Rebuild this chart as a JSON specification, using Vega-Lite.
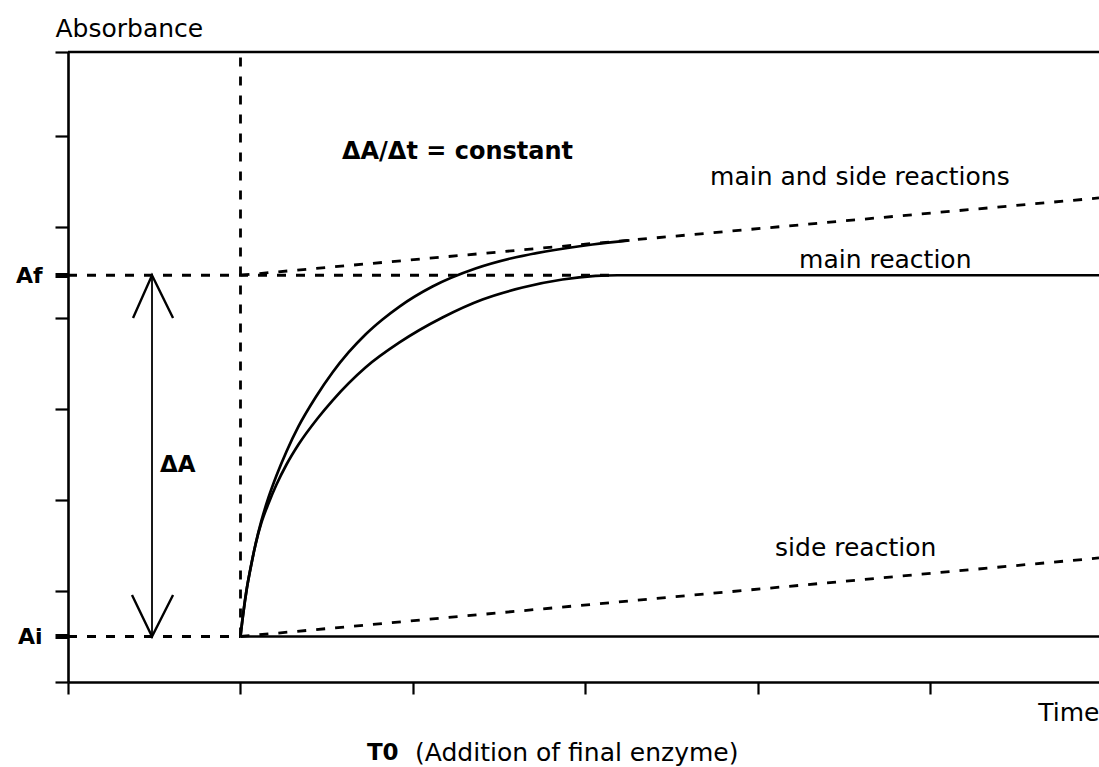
{
  "$schema": "https://vega.github.io/schema/vega-lite/v6.json",
  "width": 1031,
  "height": 630,
  "autosize": {"type": "none"},
  "padding": {"left": 68, "top": 52, "right": 0, "bottom": 85},
  "background": "white",
  "config": {"view": {"stroke": null}, "font": "DejaVu Sans"},
  "datasets": {
    "solid": [
      {"series": "main reaction", "i": 0, "x": 1, "y": 0.5},
      {"series": "main reaction", "i": 1, "x": 1.0058, "y": 0.599},
      {"series": "main reaction", "i": 2, "x": 1.0174, "y": 0.775},
      {"series": "main reaction", "i": 3, "x": 1.0348, "y": 1.005},
      {"series": "main reaction", "i": 4, "x": 1.058, "y": 1.247},
      {"series": "main reaction", "i": 5, "x": 1.087, "y": 1.511},
      {"series": "main reaction", "i": 6, "x": 1.1217, "y": 1.753},
      {"series": "main reaction", "i": 7, "x": 1.1623, "y": 1.962},
      {"series": "main reaction", "i": 8, "x": 1.2087, "y": 2.17},
      {"series": "main reaction", "i": 9, "x": 1.2667, "y": 2.39},
      {"series": "main reaction", "i": 10, "x": 1.3362, "y": 2.61},
      {"series": "main reaction", "i": 11, "x": 1.4464, "y": 2.896},
      {"series": "main reaction", "i": 12, "x": 1.5333, "y": 3.093},
      {"series": "main reaction", "i": 13, "x": 1.7246, "y": 3.456},
      {"series": "main reaction", "i": 14, "x": 1.9217, "y": 3.731},
      {"series": "main reaction", "i": 15, "x": 2.171, "y": 4.005},
      {"series": "main reaction", "i": 16, "x": 2.4029, "y": 4.203},
      {"series": "main reaction", "i": 17, "x": 2.6348, "y": 4.335},
      {"series": "main reaction", "i": 18, "x": 2.8667, "y": 4.423},
      {"series": "main reaction", "i": 19, "x": 3.058, "y": 4.462},
      {"series": "main reaction", "i": 20, "x": 3.1855, "y": 4.47},
      {"series": "main reaction", "i": 21, "x": 5.977, "y": 4.47},
      {"series": "main and side reactions", "i": 0, "x": 1, "y": 0.5},
      {"series": "main and side reactions", "i": 1, "x": 1.0058, "y": 0.599},
      {"series": "main and side reactions", "i": 2, "x": 1.0174, "y": 0.775},
      {"series": "main and side reactions", "i": 3, "x": 1.0348, "y": 1.005},
      {"series": "main and side reactions", "i": 4, "x": 1.058, "y": 1.247},
      {"series": "main and side reactions", "i": 5, "x": 1.087, "y": 1.511},
      {"series": "main and side reactions", "i": 6, "x": 1.1217, "y": 1.775},
      {"series": "main and side reactions", "i": 7, "x": 1.1623, "y": 2.027},
      {"series": "main and side reactions", "i": 8, "x": 1.2087, "y": 2.269},
      {"series": "main and side reactions", "i": 9, "x": 1.2667, "y": 2.533},
      {"series": "main and side reactions", "i": 10, "x": 1.3362, "y": 2.808},
      {"series": "main and side reactions", "i": 11, "x": 1.4348, "y": 3.126},
      {"series": "main and side reactions", "i": 12, "x": 1.5333, "y": 3.401},
      {"series": "main and side reactions", "i": 13, "x": 1.6261, "y": 3.621},
      {"series": "main and side reactions", "i": 14, "x": 1.7246, "y": 3.819},
      {"series": "main and side reactions", "i": 15, "x": 1.8232, "y": 3.984},
      {"series": "main and side reactions", "i": 16, "x": 1.9217, "y": 4.126},
      {"series": "main and side reactions", "i": 17, "x": 2.113, "y": 4.346},
      {"series": "main and side reactions", "i": 18, "x": 2.3623, "y": 4.544},
      {"series": "main and side reactions", "i": 19, "x": 2.5652, "y": 4.654},
      {"series": "main and side reactions", "i": 20, "x": 2.7681, "y": 4.731},
      {"series": "main and side reactions", "i": 21, "x": 3.0406, "y": 4.808},
      {"series": "main and side reactions", "i": 22, "x": 3.2551, "y": 4.852},
      {"series": "Ai baseline", "i": 0, "x": 1, "y": 0.5},
      {"series": "Ai baseline", "i": 1, "x": 5.977, "y": 0.5},
      {"series": "top", "i": 0, "x": 0, "y": 6.923},
      {"series": "top", "i": 1, "x": 5.977, "y": 6.923}
    ],
    "dashed": [
      {"series": "Af level", "i": 0, "x": 0, "y": 4.47},
      {"series": "Af level", "i": 1, "x": 3.186, "y": 4.47},
      {"series": "Ai level", "i": 0, "x": 0, "y": 0.5},
      {"series": "Ai level", "i": 1, "x": 1, "y": 0.5},
      {"series": "T0", "i": 0, "x": 1, "y": 0.5},
      {"series": "T0", "i": 1, "x": 1, "y": 6.923},
      {"series": "main and side extrapolation", "i": 0, "x": 1, "y": 4.47},
      {"series": "main and side extrapolation", "i": 1, "x": 5.977, "y": 5.319},
      {"series": "side reaction", "i": 0, "x": 1, "y": 0.5},
      {"series": "side reaction", "i": 1, "x": 5.977, "y": 1.363}
    ],
    "arrow": [
      {"series": "shaft", "i": 0, "x": 0.487, "y": 0.5},
      {"series": "shaft", "i": 1, "x": 0.487, "y": 4.47}
    ],
    "heads": [
      {"series": "top head", "i": 0, "x": 0.377, "y": 4.0},
      {"series": "top head", "i": 1, "x": 0.487, "y": 4.47},
      {"series": "top head", "i": 2, "x": 0.609, "y": 4.0},
      {"series": "bottom head", "i": 0, "x": 0.371, "y": 0.956},
      {"series": "bottom head", "i": 1, "x": 0.487, "y": 0.5},
      {"series": "bottom head", "i": 2, "x": 0.609, "y": 0.956}
    ],
    "labels": [
      {"text": "main and side reactions", "x": 3.722, "y": 5.549},
      {"text": "main reaction", "x": 4.238, "y": 4.637},
      {"text": "side reaction", "x": 4.099, "y": 1.473},
      {"text": "(Addition of final enzyme)", "x": 2.012, "y": -0.78}
    ],
    "boldlabels": [
      {"text": "ΔA", "x": 0.533, "y": 2.385},
      {"text": "T0", "x": 1.733, "y": -0.78}
    ],
    "rate": [
      {"text": "ΔA/Δt = constant", "x": 1.588, "y": 5.824}
    ]
  },
  "encoding": {
    "x": {
      "field": "x", "type": "quantitative",
      "scale": {"domain": [0, 5.977], "nice": false, "zero": false},
      "axis": {
        "values": [0, 1, 2, 3, 4, 5], "labels": false, "grid": false,
        "tickSize": 12, "tickWidth": 2.2, "tickColor": "black",
        "domainColor": "black", "domainWidth": 2.6,
        "title": "Time", "titleX": 1031, "titleY": 30, "titleAlign": "right",
        "titleBaseline": "middle", "titleFont": "DejaVu Sans", "titleFontSize": 25,
        "titleFontWeight": "normal", "titleColor": "black"
      }
    },
    "y": {
      "field": "y", "type": "quantitative",
      "scale": {"domain": [0, 6.923], "nice": false, "zero": false},
      "axis": {
        "values": [0, 0.5, 1, 2, 3, 4, 4.47, 5, 6, 6.923],
        "labelExpr": "datum.value == 4.47 ? 'Af' : (datum.value == 0.5 ? 'Ai' : '')",
        "labelOverlap": false, "labelFont": "DejaVu Sans", "labelFontSize": 22,
        "labelFontWeight": "bold", "labelColor": "black", "labelPadding": 13,
        "grid": false, "tickSize": 13, "tickColor": "black",
        "tickWidth": {"condition": {"test": "datum.value == 4.47 || datum.value == 0.5", "value": 5}, "value": 2.2},
        "domainColor": "black", "domainWidth": 2.6,
        "title": "Absorbance", "titleAngle": 0, "titleX": -13, "titleY": -24,
        "titleAlign": "left", "titleBaseline": "middle", "titleFont": "DejaVu Sans",
        "titleFontSize": 25, "titleFontWeight": "normal", "titleColor": "black"
      }
    }
  },
  "layer": [
    {
      "data": {"name": "solid"},
      "mark": {"type": "line", "color": "black", "strokeWidth": 2.7, "interpolate": "monotone"},
      "encoding": {"detail": {"field": "series"}, "order": {"field": "i", "type": "quantitative"}}
    },
    {
      "data": {"name": "dashed"},
      "mark": {"type": "line", "color": "black", "strokeWidth": 2.8, "strokeDash": [9, 10]},
      "encoding": {"detail": {"field": "series"}, "order": {"field": "i", "type": "quantitative"}}
    },
    {
      "data": {"name": "arrow"},
      "mark": {"type": "line", "color": "black", "strokeWidth": 1.8},
      "encoding": {"detail": {"field": "series"}, "order": {"field": "i", "type": "quantitative"}}
    },
    {
      "data": {"name": "heads"},
      "mark": {"type": "line", "color": "black", "strokeWidth": 2.4},
      "encoding": {"detail": {"field": "series"}, "order": {"field": "i", "type": "quantitative"}}
    },
    {
      "data": {"name": "labels"},
      "mark": {"type": "text", "align": "left", "baseline": "middle", "font": "DejaVu Sans", "fontSize": 25, "color": "black"},
      "encoding": {"text": {"field": "text"}}
    },
    {
      "data": {"name": "boldlabels"},
      "mark": {"type": "text", "align": "left", "baseline": "middle", "font": "DejaVu Sans", "fontSize": 23, "fontWeight": "bold", "color": "black"},
      "encoding": {"text": {"field": "text"}}
    },
    {
      "data": {"name": "rate"},
      "mark": {"type": "text", "align": "left", "baseline": "middle", "font": "DejaVu Sans", "fontSize": 24, "fontWeight": "bold", "color": "black"},
      "encoding": {"text": {"field": "text"}}
    }
  ]
}
